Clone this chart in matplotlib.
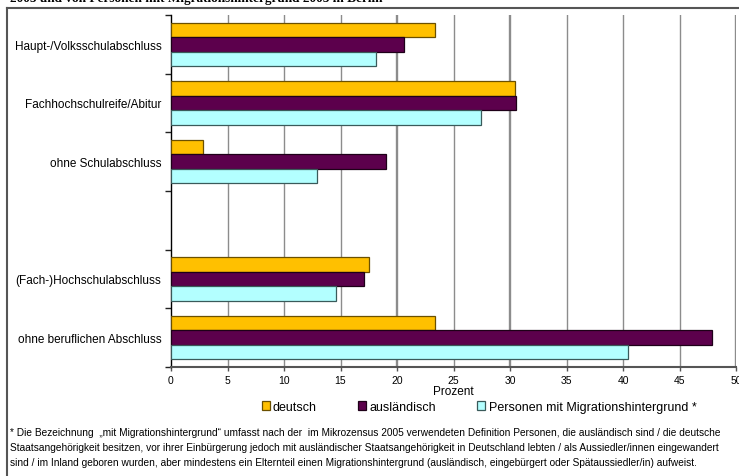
import matplotlib.pyplot as plt
import numpy as np
from matplotlib.lines import Line2D

plt.rcParams['font.family'] = ['Liberation Sans', 'DejaVu Sans']

# Kategorien (leerer Eintrag trennt Schul- und Berufsabschlüsse)
categories = ["Haupt-/Volksschulabschluss", "Fachhochschulreife/Abitur",
              "ohne Schulabschluss", "", "(Fach-)Hochschulabschluss",
              "ohne beruflichen Abschluss"]
deutsch = [23.4, 30.4, 2.8, np.nan, 17.5, 23.4]
auslaendisch = [20.6, 30.5, 19.0, np.nan, 17.1, 47.9]
migration = [18.1, 27.4, 12.9, np.nan, 14.6, 40.4]
series_names = ["deutsch", "ausländisch", "Personen mit Migrationshintergrund *"]
x_ticks = list(range(0, 51, 5))

colors = ["#FFC000", "#5C004C", "#B3FFFF"]
edges = ["#6B5000", "#1E0018", "#3A5A5A"]

fig = plt.figure(figsize=(7.39, 4.77), dpi=100)
ax = fig.add_axes([171 / 739, 1 - 368 / 477, 565 / 739, 352 / 477])

y = np.arange(len(categories))
h = 0.245
handles = []
for i, (vals, name) in enumerate(zip([deutsch, auslaendisch, migration], series_names)):
    b = ax.barh(y + (i - 1) * h, vals, height=h, color=colors[i],
                edgecolor=edges[i], linewidth=0.9, label=name, zorder=3)
    handles.append(b)

ax.set_xlim(0, 50)
ax.set_ylim(len(categories) - 0.5, -0.5)

# vertikale Gitterlinien
for v in x_ticks[1:]:
    lw = 1.7 if v in (20, 30, 50) else 1.0
    ax.axvline(v, color="#8C8C8C", lw=lw, zorder=1)

ax.set_xticks(x_ticks)
ax.set_xticklabels([str(v) for v in x_ticks], fontsize=7.5)
ax.tick_params(axis='x', length=3, width=1, color="#555555", pad=3)
ax.set_yticks(y)
ax.set_yticklabels(categories, fontsize=8.5)
ax.tick_params(axis='y', length=0, pad=7)
ax.set_yticks(np.arange(-0.5, len(categories)), minor=True)
ax.tick_params(axis='y', which='minor', length=4, width=1, color="#222222")

for s in ("top", "right"):
    ax.spines[s].set_visible(False)
ax.spines["left"].set_color("black")
ax.spines["left"].set_linewidth(1)
ax.spines["bottom"].set_color("#555555")
ax.spines["bottom"].set_linewidth(1.5)

ax.set_xlabel("Prozent", fontsize=8.5, labelpad=0)

fig.legend(handles=handles, loc='center', bbox_to_anchor=(479 / 739, 1 - 408 / 477),
           ncol=3, frameon=False, fontsize=9, handlelength=0.65, handleheight=0.65,
           handletextpad=0.25, columnspacing=3.3)

# Überschrift (oberer Teil abgeschnitten)
fig.text(10 / 739, 1 + 1 / 477, "2005 und von Personen mit Migrationshintergrund 2005 in Berlin",
         fontsize=9.5, fontweight='bold', family='Liberation Serif', va='center', ha='left')

footnote = ("* Die Bezeichnung  \u201emit Migrationshintergrund\u201c umfasst nach der  im Mikrozensus 2005 verwendeten Definition Personen, die ausländisch sind / die deutsche\n"
            "Staatsangehörigkeit besitzen, vor ihrer Einbürgerung jedoch mit ausländischer Staatsangehörigkeit in Deutschland lebten / als Aussiedler/innen eingewandert\n"
            "sind / im Inland geboren wurden, aber mindestens ein Elternteil einen Migrationshintergrund (ausländisch, eingebürgert oder Spätaussiedler/in) aufweist.")
fig.text(10 / 739, 1 - 428 / 477, footnote, fontsize=7.3, va='top', ha='left',
         linespacing=1.65)

# Rahmen links und oben
fig.add_artist(Line2D([7 / 739, 7 / 739], [0, 1 - 9 / 477], transform=fig.transFigure,
                      color="#555555", lw=1.5))
fig.add_artist(Line2D([7 / 739, 1], [1 - 9 / 477, 1 - 9 / 477], transform=fig.transFigure,
                      color="#555555", lw=1.5))

fig.savefig("out.png", dpi=100)
